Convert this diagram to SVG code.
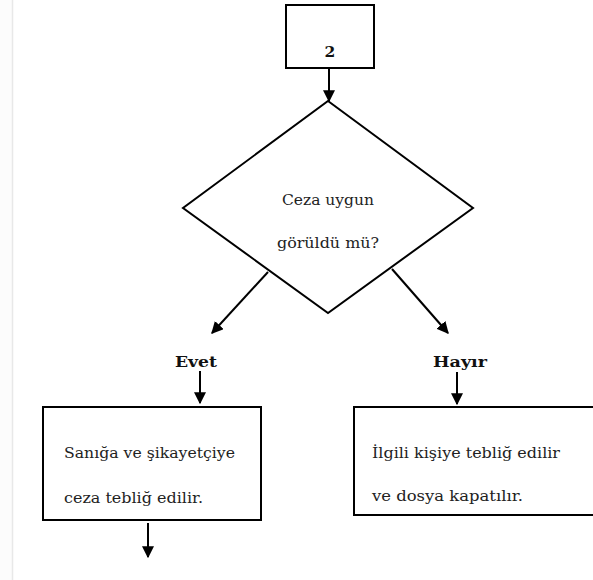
<svg xmlns="http://www.w3.org/2000/svg" width="593" height="580" viewBox="0 0 593 580">
<style>
.shape{fill:#fff;stroke:#000;stroke-width:2}
.t{font-family:"DejaVu Serif","Liberation Serif",serif;font-size:15.5px;fill:#222}
.b{font-family:"DejaVu Serif","Liberation Serif",serif;font-size:15.5px;font-weight:bold;fill:#111}
.c{stroke:#000;stroke-width:2;fill:none;marker-end:url(#ah)}
</style>
<defs>
<marker id="ah" viewBox="0 0 10 10" refX="9" refY="5" markerWidth="6" markerHeight="6" orient="auto" markerUnits="strokeWidth">
<path d="M0,0 L10,5 L0,10 z" fill="#000"/>
</marker>
</defs>
<rect x="0" y="0" width="593" height="580" fill="#fff"/>
<rect x="0" y="0" width="12" height="580" fill="#fcfcfc"/>
<line x1="12.5" y1="0" x2="12.5" y2="580" stroke="#e8e8e8" stroke-width="1.5"/>
<g id="start">
<rect class="shape" x="286" y="5" width="88" height="63"/>
<text class="b" x="330" y="57" text-anchor="middle">2</text>
</g>
<g id="decision">
<polygon class="shape" points="328,101 473,208 328,313 183,208"/>
<text class="t" x="282" y="205" textLength="92" lengthAdjust="spacingAndGlyphs">Ceza uygun</text>
<text class="t" x="277" y="248" textLength="102" lengthAdjust="spacingAndGlyphs">görüldü mü?</text>
</g>
<g id="evet">
<text class="b" x="175" y="367" textLength="42" lengthAdjust="spacingAndGlyphs">Evet</text>
</g>
<g id="hayir">
<text class="b" x="433" y="367" textLength="54" lengthAdjust="spacingAndGlyphs">Hayır</text>
</g>
<g id="box-yes">
<rect class="shape" x="43" y="407" width="218" height="113"/>
<text class="t" x="64" y="458" textLength="171" lengthAdjust="spacingAndGlyphs">Sanığa ve şikayetçiye</text>
<text class="t" x="64" y="503" textLength="139" lengthAdjust="spacingAndGlyphs">ceza tebliğ edilir.</text>
</g>
<g id="box-no">
<rect class="shape" x="354" y="407" width="250" height="108"/>
<text class="t" x="372" y="458" textLength="188" lengthAdjust="spacingAndGlyphs">İlgili kişiye tebliğ edilir</text>
<text class="t" x="372" y="501" textLength="151" lengthAdjust="spacingAndGlyphs">ve dosya kapatılır.</text>
</g>
<g id="connectors">
<line class="c" x1="329" y1="68" x2="329" y2="101"/>
<line class="c" x1="268" y1="272" x2="212" y2="333"/>
<line class="c" x1="392" y1="269" x2="448" y2="333"/>
<line class="c" x1="200" y1="371" x2="200" y2="403"/>
<line class="c" x1="457" y1="372" x2="457" y2="404"/>
<line class="c" x1="148" y1="523" x2="148" y2="557"/>
</g>
</svg>
